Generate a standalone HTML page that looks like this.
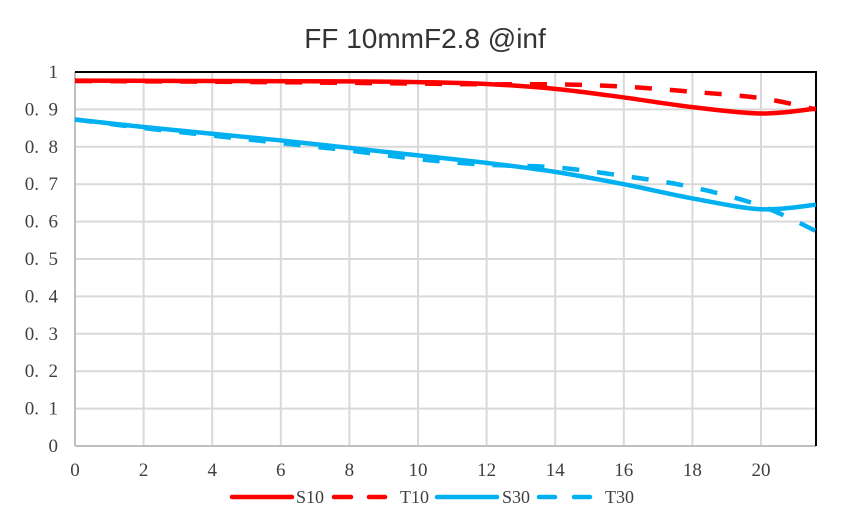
<!DOCTYPE html>
<html><head><meta charset="utf-8"><style>
body{margin:0;background:#fff;}
svg{display:block}
</style></head><body>
<svg id="s" width="850" height="528" xmlns="http://www.w3.org/2000/svg">
<rect width="850" height="528" fill="#fff"/>
<text x="425" y="48" text-anchor="middle" font-family="Liberation Sans, sans-serif" font-size="28" fill="#333">FF 10mmF2.8 @inf</text>
<g id="grid"></g>
<g id="lines" fill="none" stroke-width="4.5"></g>
<g font-family="Liberation Serif, serif" font-size="18" fill="#404040">
<line x1="232" y1="497" x2="292" y2="497" stroke="#f00" stroke-width="4.5" stroke-linecap="round"/>
<text x="296" y="503">S10</text>
<line x1="334" y1="497" x2="351" y2="497" stroke="#f00" stroke-width="4.5" stroke-linecap="round"/>
<line x1="369" y1="497" x2="385" y2="497" stroke="#f00" stroke-width="4.5" stroke-linecap="round"/>
<text x="400" y="503">T10</text>
<line x1="437" y1="497" x2="497" y2="497" stroke="#00b0f0" stroke-width="4.5" stroke-linecap="round"/>
<text x="502" y="503">S30</text>
<line x1="539" y1="497" x2="555" y2="497" stroke="#00b0f0" stroke-width="4.5" stroke-linecap="round"/>
<line x1="574" y1="497" x2="590" y2="497" stroke="#00b0f0" stroke-width="4.5" stroke-linecap="round"/>
<text x="605" y="503">T30</text>
</g>
</svg>
<script>
const X=v=>75+v*34.3, Y=v=>446-v*374;
let g='';
for(let i=1;i<=10;i++){g+=`<line x1="75" x2="816" y1="${Y(i/10)}" y2="${Y(i/10)}" stroke="#d9d9d9" stroke-width="2"/>`;}
for(let i=2;i<=20;i+=2){g+=`<line y1="72" y2="446" x1="${X(i)}" x2="${X(i)}" stroke="#d9d9d9" stroke-width="2"/>`;}
g+=`<line x1="75" x2="816" y1="446" y2="446" stroke="#bfbfbf" stroke-width="2"/>`;
g+=`<line x1="75" x2="75" y1="72" y2="446" stroke="#bfbfbf" stroke-width="2"/>`;
g+=`<line x1="75" x2="817" y1="72" y2="72" stroke="#000" stroke-width="2"/>`;
g+=`<line x1="816" x2="816" y1="71" y2="446" stroke="#000" stroke-width="2"/>`;
for(let i=0;i<=10;i++){let t=i==0?'0':i==10?'1':'0.  '+i;g+=`<text x="58" y="${Y(i/10)+6}" text-anchor="end" font-family="Liberation Serif, serif" font-size="19" fill="#404040" xml:space="preserve">${t}</text>`;}
for(let i=0;i<=20;i+=2){g+=`<text x="${X(i)}" y="476" text-anchor="middle" font-family="Liberation Serif, serif" font-size="19" fill="#404040">${i}</text>`;}
document.getElementById('grid').innerHTML=g;
function path(pts){
 const p=pts.map(a=>[X(a[0]),Y(a[1])]);let d=`M${p[0][0]},${p[0][1]}`;
 for(let i=0;i<p.length-1;i++){const p0=p[i-1]||p[i],p1=p[i],p2=p[i+1],p3=p[i+2]||p2;
 d+=` C${p1[0]+(p2[0]-p0[0])/6},${p1[1]+(p2[1]-p0[1])/6} ${p2[0]-(p3[0]-p1[0])/6},${p2[1]-(p3[1]-p1[1])/6} ${p2[0]},${p2[1]}`;}
 return d;}
const S10=[[0,.977],[4,.976],[8,.975],[10,.973],[12,.968],[14,.955],[16,.932],[18,.906],[20,.889],[21.6,.902]];
const T10=[[0,.976],[4,.974],[8,.971],[10,.969],[12,.967],[14,.967],[16,.961],[18,.947],[20,.93],[21.6,.9]];
const S30=[[0,.873],[2,.853],[4,.835],[6,.817],[8,.797],[10,.777],[12,.757],[14,.733],[16,.70],[18,.662],[20,.633],[21.6,.645]];
const T30=[[0,.873],[2,.85],[4,.83],[6,.81],[8,.79],[10,.767],[12,.752],[14,.745],[16,.722],[18,.692],[20,.642],[21.6,.575]];
let l='';
l+=`<path d="${path(S10)}" stroke="#f00"/>`;
l+=`<path d="${path(T10)}" stroke="#f00" stroke-dasharray="17 18"/>`;
l+=`<path d="${path(S30)}" stroke="#00b0f0"/>`;
l+=`<path d="${path(T30)}" stroke="#00b0f0" stroke-dasharray="17 18"/>`;
document.getElementById('lines').innerHTML=l;
</script>
</body></html>
